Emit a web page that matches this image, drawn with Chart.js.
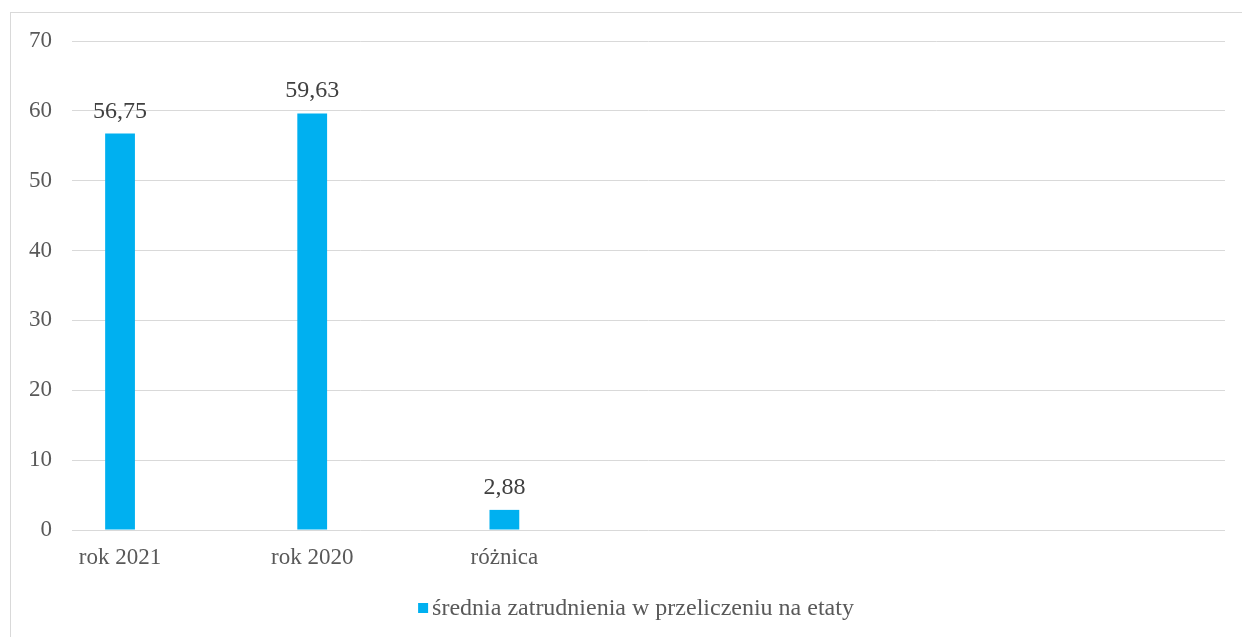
<!DOCTYPE html>
<html>
<head>
<meta charset="utf-8">
<script src="https://cdn.jsdelivr.net/npm/chart.js@4/dist/chart.umd.min.js"></script>
<style>
  html, body { margin: 0; padding: 0; background: #ffffff; overflow: hidden; }
  #frame { position: absolute; left: 10px; top: 12px; width: 1260px; height: 660px; border: 1px solid #d9d9d9; box-sizing: border-box; }
  #wrap { position: absolute; left: 0; top: 0; width: 1242px; height: 637px; }
</style>
</head>
<body>
<div id="frame"></div>
<div id="wrap"><canvas id="c" width="1242" height="637"></canvas></div>
<script>
// Categories (empty slots keep the original spacing)
const categories = ["rok 2021", "", "rok 2020", "", "różnica", "", "", "", "", "", "", ""];
const seriesName = "średnia zatrudnienia w przeliczeniu na etaty";
const seriesValues = [56.75, null, 59.63, null, 2.88, null, null, null, null, null, null, null];
const yTicks = [0, 10, 20, 30, 40, 50, 60, 70];

const FONT = "'Liberation Serif', 'Times New Roman', serif";
const BAR_COLOR = '#00B0F0';

const dataLabels = {
  id: 'dataLabels',
  afterDatasetsDraw(chart) {
    const ctx = chart.ctx;
    const meta = chart.getDatasetMeta(0);
    ctx.save();
    ctx.font = "24px " + FONT;
    ctx.fillStyle = "#404040";
    ctx.textAlign = "center";
    ctx.textBaseline = "alphabetic";
    meta.data.forEach((el, i) => {
      const v = seriesValues[i];
      if (v === null || v === undefined) return;
      ctx.fillText(v.toFixed(2).replace('.', ','), el.x, el.y - 16);
    });
    ctx.restore();
  }
};

const customLegend = {
  id: 'customLegend',
  afterDraw(chart) {
    const ctx = chart.ctx;
    const ds = chart.data.datasets[0];
    ctx.save();
    ctx.font = "24px " + FONT;
    const tw = ctx.measureText(ds.label).width;
    const box = 10, gap = 4;
    const total = box + gap + tw;
    const cx = 636, cy = 608;
    const x0 = cx - total / 2;
    ctx.fillStyle = ds.backgroundColor;
    ctx.fillRect(x0, cy - box / 2, box, box);
    ctx.fillStyle = '#595959';
    ctx.textAlign = 'left';
    ctx.textBaseline = 'middle';
    ctx.fillText(ds.label, x0 + box + gap, cy + 1);
    ctx.restore();
  }
};

new Chart(document.getElementById('c'), {
  type: 'bar',
  data: {
    labels: categories,
    datasets: [{
      label: seriesName,
      data: seriesValues,
      backgroundColor: BAR_COLOR,
      borderWidth: 0,
      categoryPercentage: 1.0,
      barPercentage: 0.31
    }]
  },
  options: {
    responsive: false,
    animation: false,
    devicePixelRatio: 1,
    layout: { padding: { left: 0, right: 17, top: 41, bottom: 52 } },
    plugins: {
      tooltip: { enabled: false },
      legend: { display: false }
    },
    scales: {
      x: {
        grid: { display: false, drawTicks: false },
        border: { display: false },
        ticks: { color: '#595959', font: { family: FONT, size: 23 }, padding: 14, maxRotation: 0, autoSkip: false },
        afterFit(s) { s.height = 55; }
      },
      y: {
        min: 0, max: 70,
        afterBuildTicks(s) { s.ticks = yTicks.map(v => ({ value: v })); },
        grid: { color: '#d9d9d9', lineWidth: 1, drawTicks: false },
        border: { display: false },
        ticks: { color: '#595959', font: { family: FONT, size: 23 }, padding: 20 },
        afterFit(s) { s.width = 72; }
      }
    }
  },
  plugins: [dataLabels, customLegend]
});
</script>
</body>
</html>
